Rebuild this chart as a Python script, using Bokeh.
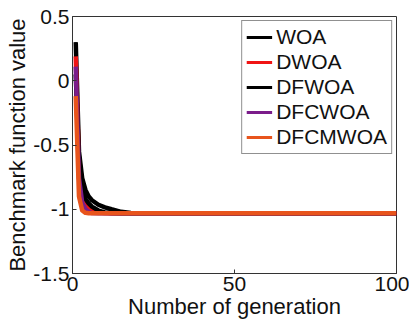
from bokeh.plotting import figure
from bokeh.models import Range1d, FixedTicker, Legend, LegendItem
from bokeh.embed import file_html
from bokeh.resources import INLINE

# ---- data ----
gens = [1, 2, 3, 4, 5, 6, 8, 10, 12, 15, 18, 100]
woa = [0.30, -0.55, -0.76, -0.85, -0.90, -0.93, -0.965, -0.985, -1.00, -1.02, -1.03, -1.0316]
dwoa = [0.19, -0.66, -0.88, -0.95, -0.985, -1.005, -1.025, -1.03, -1.0316, -1.0316, -1.0316, -1.0316]
dfwoa = [0.05, -0.62, -0.84, -0.92, -0.955, -0.98, -1.01, -1.025, -1.03, -1.0316, -1.0316, -1.0316]
dfcwoa = [0.11, -0.76, -0.95, -1.00, -1.02, -1.03, -1.0316, -1.0316, -1.0316, -1.0316, -1.0316, -1.0316]
dfcmwoa = [-0.12, -0.90, -1.01, -1.028, -1.0316, -1.0316, -1.0316, -1.0316, -1.0316, -1.0316, -1.0316, -1.0316]

series_names = ["WOA", "DWOA", "DFWOA", "DFCWOA", "DFCMWOA"]
series_values = [woa, dwoa, dfwoa, dfcwoa, dfcmwoa]
series_colors = ["#000000", "#f01414", "#000000", "#7b1d8a", "#e8541c"]

x_ticks = [0, 50, 100]
y_ticks = [-1.5, -1, -0.5, 0, 0.5]
y_tick_labels = ["-1.5", "-1", "-0.5", "0", "0.5"]

FONT = "Liberation Sans"

p = figure(width=409, height=321, output_backend="svg", toolbar_location=None,
           x_range=Range1d(0, 100), y_range=Range1d(-1.5, 0.5))
p.min_border_left = 72
p.min_border_right = 13
p.min_border_top = 16
p.min_border_bottom = 45

p.grid.visible = False
p.outline_line_color = "#333333"
p.outline_line_width = 1
p.background_fill_color = "white"
p.border_fill_color = "white"

# thinner copies (hidden under the main lines) used only for the legend swatches
items = []
for name, vals, col in zip(series_names, series_values, series_colors):
    proxy = p.line(gens, vals, line_color=col, line_width=3)
    items.append(LegendItem(label=name, renderers=[proxy]))
for vals, col in zip(series_values, series_colors):
    p.line(gens, vals, line_color=col, line_width=4.5, line_join="round")

legend = Legend(items=items, location="top_right")
legend.label_text_font = FONT
legend.label_text_font_size = "21px"
legend.label_text_color = "#111111"
legend.label_height = 20
legend.glyph_height = 20
legend.glyph_width = 26
legend.label_standoff = 4
legend.spacing = 1
legend.padding = 4
legend.margin = 4
legend.border_line_color = "#222222"
legend.border_line_width = 1
legend.background_fill_alpha = 1.0
p.add_layout(legend)

for ax in (p.xaxis[0], p.yaxis[0]):
    ax.major_label_text_font = FONT
    ax.major_label_text_font_size = "21px"
    ax.major_label_text_color = "#111111"
    ax.axis_label_text_font = FONT
    ax.axis_label_text_font_size = "22px"
    ax.axis_label_text_font_style = "normal"
    ax.axis_label_text_color = "#111111"
    ax.axis_line_color = "#333333"
    ax.major_tick_line_color = "#333333"
    ax.major_tick_in = 4
    ax.major_tick_out = 0
    ax.minor_tick_line_color = None
    ax.major_label_standoff = 3
    ax.axis_label_standoff = 0

p.xaxis[0].ticker = FixedTicker(ticks=x_ticks)
p.yaxis[0].ticker = FixedTicker(ticks=y_ticks)
p.yaxis[0].major_label_overrides = {t: l for t, l in zip(y_ticks, y_tick_labels)}
p.xaxis[0].axis_label = "Number of generation"
p.yaxis[0].axis_label = "Benchmark function value"

open("out.html", "w").write(file_html(p, INLINE))
